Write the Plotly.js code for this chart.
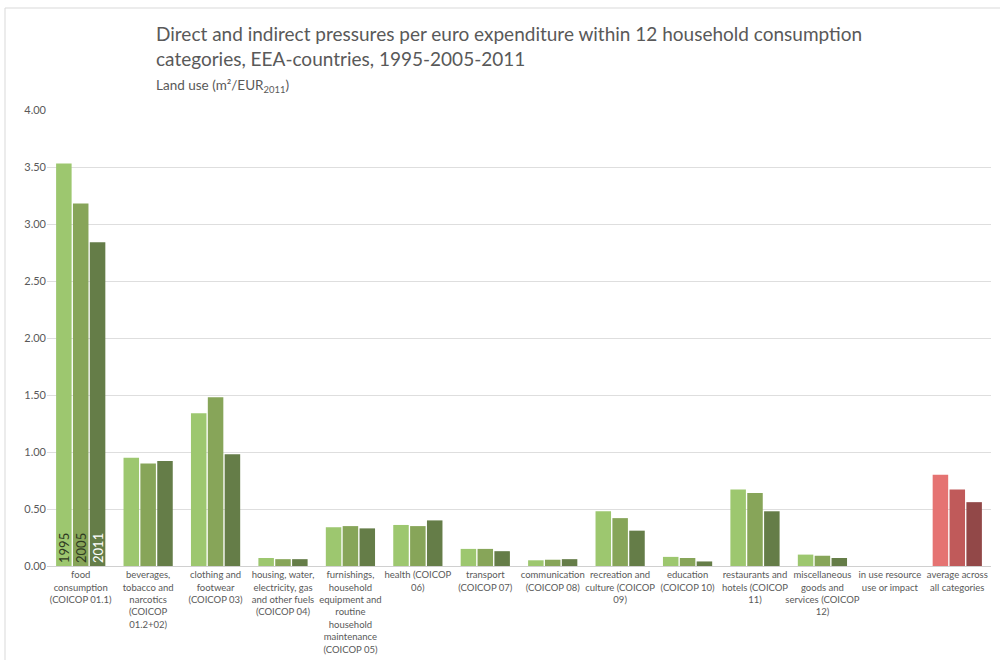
<!DOCTYPE html>
<html><head><meta charset="utf-8">
<script src="https://cdn.plot.ly/plotly-3.0.1.min.js"></script>
<style>body{margin:0;background:#fff}#chart{width:1000px;height:660px}</style>
</head><body><div id="chart"></div>
<script>
const categories = [
  "food<br>consumption<br>(COICOP 01.1)",
  "beverages,<br>tobacco and<br>narcotics<br>(COICOP<br>01.2+02)",
  "clothing and<br>footwear<br>(COICOP 03)",
  "housing, water,<br>electricity, gas<br>and other fuels<br>(COICOP 04)",
  "furnishings,<br>household<br>equipment and<br>routine<br>household<br>maintenance<br>(COICOP 05)",
  "health (COICOP<br>06)",
  "transport<br>(COICOP 07)",
  "communication<br>(COICOP 08)",
  "recreation and<br>culture (COICOP<br>09)",
  "education<br>(COICOP 10)",
  "restaurants and<br>hotels (COICOP<br>11)",
  "miscellaneous<br>goods and<br>services (COICOP<br>12)",
  "in use resource<br>use or impact",
  "average across<br>all categories"
];
const years = ["1995", "2005", "2011"];
const v1995 = [3.53, 0.95, 1.34, 0.07, 0.34, 0.36, 0.15, 0.05, 0.48, 0.08, 0.67, 0.10, 0, 0.80];
const v2005 = [3.18, 0.90, 1.48, 0.06, 0.35, 0.35, 0.15, 0.055, 0.42, 0.07, 0.64, 0.09, 0, 0.67];
const v2011 = [2.84, 0.92, 0.98, 0.06, 0.33, 0.40, 0.13, 0.06, 0.31, 0.04, 0.48, 0.07, 0, 0.56];
const values = [v1995, v2005, v2011];
const greens = ["#9dc76f", "#87a559", "#657d48"];
const reds = ["#e57372", "#c05a5a", "#924848"];
const labelColors = ["#2f3b22", "#2f3b22", "#ffffff"];

const traces = years.map((y, i) => ({
  type: "bar",
  name: y,
  x: categories,
  y: values[i],
  marker: {
    color: categories.map((c, j) => j === categories.length - 1 ? reds[i] : greens[i]),
    line: {width: 0}
  },
  text: categories.map((c, j) => j === 0 ? y : ""),
  textposition: "inside",
  insidetextanchor: "start",
  textangle: -90,
  textfont: {family: "Lato, sans-serif", size: 13, color: labelColors[i]},
  constraintext: "none",
  hoverinfo: "x+y"
}));

const layout = {
  width: 1000, height: 660,
  margin: {l: 47, r: 9, t: 110, b: 94},
  paper_bgcolor: "#ffffff",
  plot_bgcolor: "#ffffff",
  showlegend: false,
  barmode: "group",
  bargap: 0.25,
  bargroupgap: 0.08,
  font: {family: "Lato, sans-serif", color: "#595959"},
  xaxis: {
    type: "category",
    tickfont: {size: 9.5, color: "#595959"},
    tickangle: 0,
    showline: true, linecolor: "#d0d0d0", linewidth: 1,
    ticks: "", automargin: false
  },
  yaxis: {
    range: [0, 4], dtick: 0.5, tickformat: ".2f",
    tickfont: {size: 11, color: "#595959"},
    gridcolor: "#dedede", gridwidth: 1,
    zeroline: false, showline: false, ticks: "", ticklen: 0,
    automargin: false
  },
  annotations: [
    {xref: "paper", yref: "paper", x: (154 - 47) / 944, y: 1 + (110 - 20) / 456, xanchor: "left", yanchor: "top",
     text: "Direct and indirect pressures per euro expenditure within 12 household consumption<br>categories, EEA-countries, 1995-2005-2011",
     showarrow: false, align: "left", font: {size: 19, color: "#595959"}},
    {xref: "paper", yref: "paper", x: (154 - 47) / 944, y: 1 + (110 - 75) / 456, xanchor: "left", yanchor: "top",
     text: "Land use (m²/EUR<sub>2011</sub>)",
     showarrow: false, align: "left", font: {size: 13.5, color: "#595959"}}
  ],
  shapes: [
    {type: "rect", xref: "paper", yref: "paper",
     x0: (5 - 47) / 944, x1: (1005 - 47) / 944,
     y0: -(94 + 20) / 456, y1: 1 + (110 - 8) / 456,
     line: {color: "#d9d9d9", width: 1}, fillcolor: "rgba(0,0,0,0)", layer: "below"}
  ]
};

Plotly.newPlot("chart", traces, layout, {displayModeBar: false, staticPlot: true});
</script></body></html>
